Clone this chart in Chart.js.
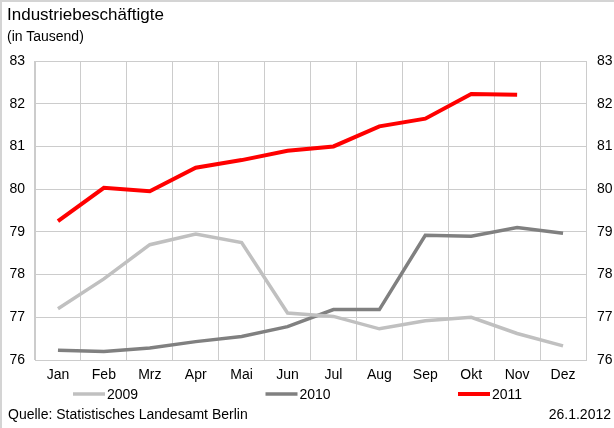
<!DOCTYPE html>
<html>
<head>
<meta charset="utf-8">
<script src="https://cdn.jsdelivr.net/npm/chart.js@4/dist/chart.umd.min.js"></script>
<style>
  html, body { margin: 0; padding: 0; background: #fff; }
  #wrap { position: relative; width: 614px; height: 428px; overflow: hidden; font-family: "Liberation Sans", Arial, sans-serif; color: #000; }
  #frame { position: absolute; left: 0; top: 0; width: 614px; height: 428px; box-sizing: border-box; border-left: 2px solid #d4d4d4; border-top: 2px solid #d4d4d4; pointer-events: none; }
  #chart { position: absolute; left: 0; top: 0; }
  .txt { position: absolute; white-space: nowrap; }
  #titel { left: 7px; top: 5px; font-size: 17px; }
  #einheit { left: 7px; top: 28px; font-size: 14px; }
  #quelle { left: 8px; top: 406px; font-size: 14px; }
  #datum { right: 3px; top: 406px; font-size: 14px; }
</style>
</head>
<body>
<div id="wrap">
  <canvas id="chart" width="614" height="428"></canvas>
  <div class="txt" id="titel">Industriebeschäftigte</div>
  <div class="txt" id="einheit">(in Tausend)</div>
  <div class="txt" id="quelle">Quelle: Statistisches Landesamt Berlin</div>
  <div class="txt" id="datum">26.1.2012</div>
  <div id="frame"></div>
</div>
<script>
var monate = ["Jan", "Feb", "Mrz", "Apr", "Mai", "Jun", "Jul", "Aug", "Sep", "Okt", "Nov", "Dez"]
var werte2009 = [77.2, 77.9, 78.7, 78.95, 78.75, 77.1, 77.02, 76.73, 76.92, 77.0, 76.62, 76.33]
var werte2010 = [76.23, 76.2, 76.28, 76.43, 76.55, 76.78, 77.18, 77.18, 78.92, 78.9, 79.1, 78.97]
var werte2011 = [79.25, 80.03, 79.95, 80.5, 80.68, 80.9, 81.0, 81.47, 81.65, 82.23, 82.21, null]
var yMin = 76
var yMax = 83

var gridFarbe = "#cccccc"
var schrift = { family: "'Liberation Sans', Arial, sans-serif", size: 14 }

// Legende wie im Original: drei Einträge in festen Abständen
var legendePlugin = {
    id: "legendeUnten",
    afterDraw: function (chart) {
        var ctx = chart.ctx
        var startX = 73, schritt = 192.5, y = 394
        ctx.save()
        ctx.font = "14px 'Liberation Sans', Arial, sans-serif"
        ctx.textBaseline = "middle"
        ctx.fillStyle = "#000"
        chart.data.datasets.forEach(function (ds, i) {
            var x = startX + i * schritt
            ctx.strokeStyle = ds.borderColor
            ctx.lineWidth = ds.borderWidth
            ctx.beginPath()
            ctx.moveTo(x, y)
            ctx.lineTo(x + 32, y)
            ctx.stroke()
            ctx.fillText(ds.label, x + 34, y + 1)
        })
        ctx.restore()
    }
}

var chartIndustrie = new Chart(document.getElementById("chart"), {
    type: "line",
    data: {
        labels: monate,
        datasets: [{
            label: "2009",
            data: werte2009,
            borderColor: "#c0c0c0",
            borderWidth: 3.5,
            pointRadius: 0
        }, {
            label: "2010",
            data: werte2010,
            borderColor: "#808080",
            borderWidth: 3.5,
            pointRadius: 0
        }, {
            label: "2011",
            data: werte2011,
            borderColor: "#ff0000",
            borderWidth: 4,
            pointRadius: 0
        }]
    },
    options: {
        responsive: false,
        animation: false,
        devicePixelRatio: 1,
        layout: { padding: { top: 61, left: 0, right: 0, bottom: 44 } },
        plugins: {
            legend: { display: false },
            tooltip: { enabled: false }
        },
        scales: {
            x: {
                offset: true,
                grid: { offset: true, color: gridFarbe, drawTicks: false },
                border: { color: gridFarbe },
                ticks: { color: "#000", font: schrift, padding: 7, maxRotation: 0 },
                afterFit: function (s) { s.height = 24 }
            },
            y: {
                position: "left",
                min: yMin,
                max: yMax,
                grid: { color: gridFarbe, drawTicks: false },
                border: { color: gridFarbe },
                ticks: { stepSize: 1, color: "#000", font: schrift, padding: 10 },
                afterFit: function (s) { s.width = 35 }
            },
            y2: {
                position: "right",
                min: yMin,
                max: yMax,
                grid: { display: false, drawTicks: false },
                border: { color: gridFarbe },
                ticks: { stepSize: 1, color: "#000", font: schrift, padding: 11 },
                afterFit: function (s) { s.width = 28 }
            }
        }
    },
    plugins: [legendePlugin]
})
</script>
</body>
</html>
